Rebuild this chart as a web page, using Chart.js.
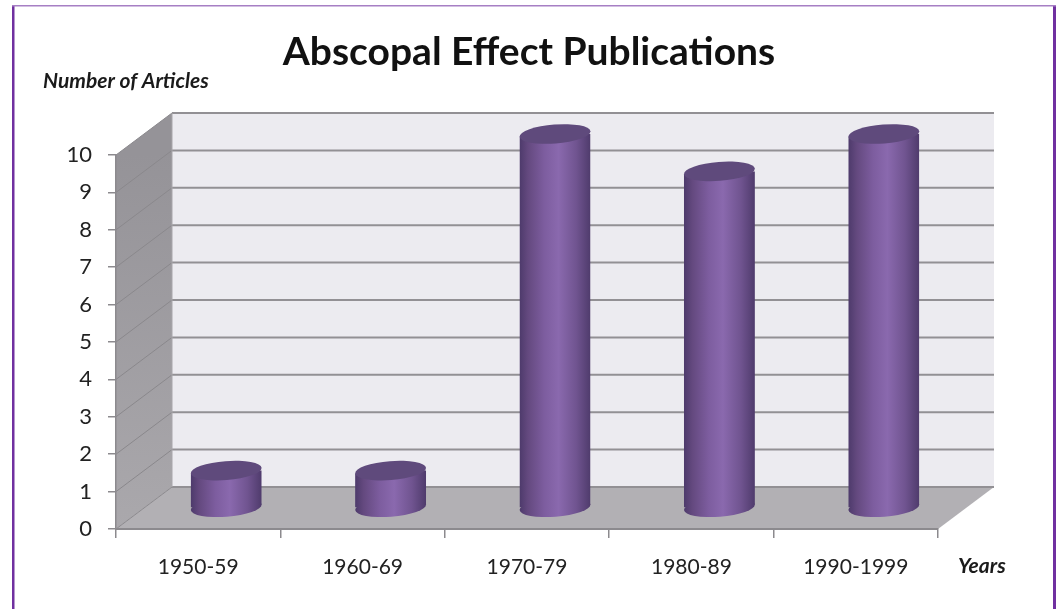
<!DOCTYPE html>
<html>
<head>
<meta charset="utf-8">
<title>Abscopal Effect Publications</title>
<script src="https://cdn.jsdelivr.net/npm/chart.js@4"></script>
<style>
    body { margin: 0; background: #fff; }
    canvas { display: block; }
</style>
</head>
<body>
<canvas id="chart" width="1058" height="609"></canvas>
<script>
let categories = ["1950-59", "1960-69", "1970-79", "1980-89", "1990-1999"];
let articles = [1, 1, 10, 9, 10];
let yTicks = [0, 1, 2, 3, 4, 5, 6, 7, 8, 9, 10];

let titleText = "Abscopal Effect Publications";
let yLabel = "Number of Articles";
let xLabel = "Years";

const FONT = "Lato, Carlito, sans-serif";

/* depth of the fake 3d box, in pixels */
const DEPTH_X = 56;
const DEPTH_Y = 42;
const TILT = -4.5 * Math.PI / 180;

function barGradient(ctx, left, right) {
    let g = ctx.createLinearGradient(left, 0, right, 0);
    g.addColorStop(0, "#4d3a6b");
    g.addColorStop(0.12, "#64497f");
    g.addColorStop(0.35, "#7d5d9f");
    g.addColorStop(0.55, "#8a69ae");
    g.addColorStop(0.8, "#705490");
    g.addColorStop(1, "#4f3b6c");
    return g;
}

function quad(ctx, pts, fill) {
    ctx.beginPath();
    ctx.moveTo(pts[0][0], pts[0][1]);
    for (let i = 1; i < pts.length; i++) ctx.lineTo(pts[i][0], pts[i][1]);
    ctx.closePath();
    ctx.fillStyle = fill;
    ctx.fill();
}

/* frame, walls and floor go under the axes */
const box3d = {
    id: "box3d",
    beforeDraw(chart) {
        let ctx = chart.ctx;
        let y = chart.scales.y;
        let a = chart.chartArea;
        let y0 = y.getPixelForValue(0);
        let yTop = y.getPixelForValue(10);

        ctx.save();
        ctx.fillStyle = "#fff";
        ctx.fillRect(0, 0, chart.width, chart.height);

        // back wall
        quad(ctx, [[a.left + DEPTH_X, yTop - DEPTH_Y], [a.right + DEPTH_X, yTop - DEPTH_Y],
                   [a.right + DEPTH_X, y0 - DEPTH_Y], [a.left + DEPTH_X, y0 - DEPTH_Y]], "#ecebf0");

        // left wall
        let wall = ctx.createLinearGradient(0, yTop, 0, y0);
        wall.addColorStop(0, "#959398");
        wall.addColorStop(1, "#aaa8ac");
        quad(ctx, [[a.left, yTop], [a.left + DEPTH_X, yTop - DEPTH_Y],
                   [a.left + DEPTH_X, y0 - DEPTH_Y], [a.left, y0]], wall);

        // floor
        quad(ctx, [[a.left, y0], [a.left + DEPTH_X, y0 - DEPTH_Y],
                   [a.right + DEPTH_X, y0 - DEPTH_Y], [a.right, y0]], "#b2b0b4");

        // gridlines bend at the back corner
        y.ticks.forEach(t => {
            let py = y.getPixelForValue(t.value);
            ctx.beginPath();
            ctx.moveTo(a.left, py);
            ctx.lineTo(a.left + DEPTH_X, py - DEPTH_Y);
            ctx.strokeStyle = "#8a888c";
            ctx.lineWidth = 1;
            ctx.stroke();
            ctx.beginPath();
            ctx.moveTo(a.left + DEPTH_X, py - DEPTH_Y);
            ctx.lineTo(a.right + DEPTH_X, py - DEPTH_Y);
            ctx.strokeStyle = "#929094";
            ctx.lineWidth = 2;
            ctx.stroke();
        });

        // corner between left wall and back wall
        ctx.beginPath();
        ctx.moveTo(a.left + DEPTH_X, yTop - DEPTH_Y);
        ctx.lineTo(a.left + DEPTH_X, y0 - DEPTH_Y);
        ctx.strokeStyle = "#a8a6aa";
        ctx.lineWidth = 1;
        ctx.stroke();

        // purple frame around the picture
        ctx.fillStyle = "#7030a0";
        ctx.fillRect(12, 5, 2.5, 604);
        ctx.fillRect(1053, 5, 3, 604);
        ctx.fillStyle = "#a67fc4";
        ctx.fillRect(12, 5, 1044, 1.5);
        ctx.restore();
    },
    beforeDatasetsDraw(chart) {
        let ctx = chart.ctx;
        let bars = chart.getDatasetMeta(0).data;
        ctx.save();
        // the cylinders stand half way into the box
        ctx.translate(DEPTH_X / 2, -DEPTH_Y / 2);
        let shift = 0;
        bars.forEach(b => {
            let r = b.width / 2;
            shift = Math.sin(TILT) * r;
            ctx.beginPath();
            ctx.ellipse(b.x, b.base, r, 9.5, TILT, 0, Math.PI * 2);
            ctx.fillStyle = barGradient(ctx, b.x - r, b.x + r);
            ctx.fill();
        });
        // cut the square bar ends so they follow the tilt of the ellipses
        ctx.beginPath();
        bars.forEach(b => {
            let r = b.width / 2;
            ctx.moveTo(b.x - r, b.y - shift);
            ctx.lineTo(b.x + r, b.y + shift);
            ctx.lineTo(b.x + r, b.base + shift);
            ctx.lineTo(b.x - r, b.base - shift);
            ctx.closePath();
        });
        ctx.clip();
    },
    afterDatasetsDraw(chart) {
        let ctx = chart.ctx;
        ctx.restore();
        ctx.save();
        ctx.translate(DEPTH_X / 2, -DEPTH_Y / 2);
        chart.getDatasetMeta(0).data.forEach(b => {
            ctx.beginPath();
            ctx.ellipse(b.x, b.y, b.width / 2, 9.5, TILT, 0, Math.PI * 2);
            ctx.fillStyle = "#5f4a7c";
            ctx.fill();
        });
        ctx.restore();

        // the two loose axis captions
        ctx.save();
        ctx.fillStyle = "#1a1a1a";
        ctx.font = "italic bold 21px " + FONT;
        ctx.textBaseline = "middle";
        ctx.fillText(yLabel, 43, 81);
        ctx.fillText(xLabel, 958, 566);
        ctx.restore();
    }
};

new Chart(document.getElementById("chart"), {
    type: "bar",
    plugins: [box3d],
    data: {
        labels: categories,
        datasets: [{
            label: yLabel,
            data: articles,
            borderWidth: 0,
            barPercentage: 0.432,
            categoryPercentage: 1,
            clip: false,
            backgroundColor: (c) => {
                let x = c.chart.scales.x;
                if (!x || !c.chart.chartArea || c.dataIndex === undefined) return "#7d5d9f";
                let mid = x.getPixelForValue(c.dataIndex);
                if (!Number.isFinite(mid)) return "#7d5d9f";
                return barGradient(c.chart.ctx, mid - 35.5, mid + 35.5);
            }
        }]
    },
    options: {
        responsive: false,
        animation: false,
        layout: { padding: 0 },
        plugins: {
            legend: { display: false },
            tooltip: { enabled: false },
            title: {
                display: true,
                text: titleText,
                color: "#111",
                font: { family: FONT, size: 39, weight: "bold", lineHeight: 1.2 },
                padding: { top: 29, bottom: 79.2 }
            }
        },
        scales: {
            x: {
                afterFit: (s) => { s.height = 80; },
                border: { display: true, color: "#8c8a8e", width: 2 },
                grid: { display: true, drawOnChartArea: false, drawTicks: true, tickLength: 9, color: "#8c8a8e", lineWidth: 1.5 },
                ticks: { color: "#222", padding: 17, maxRotation: 0, font: { family: FONT, size: 21 } }
            },
            y: {
                min: 0,
                max: 10,
                afterFit: (s) => { s.width = 116; },
                afterBuildTicks: (s) => { s.ticks = yTicks.map(v => ({ value: v })); },
                border: { display: true, color: "#8c8a8e", width: 1.5 },
                grid: { display: true, drawOnChartArea: false, drawTicks: true, tickLength: 8, color: "#8c8a8e", lineWidth: 1.5 },
                ticks: { color: "#222", padding: 16, font: { family: FONT, size: 22 } }
            },
            // empty axis that only holds the space right of the plot, so the title stays centred on the page
            spacer: {
                position: "right",
                min: 0,
                max: 10,
                afterFit: (s) => { s.width = 120; },
                border: { display: false },
                grid: { display: false },
                ticks: { display: false }
            }
        }
    }
});
</script>
</body>
</html>
